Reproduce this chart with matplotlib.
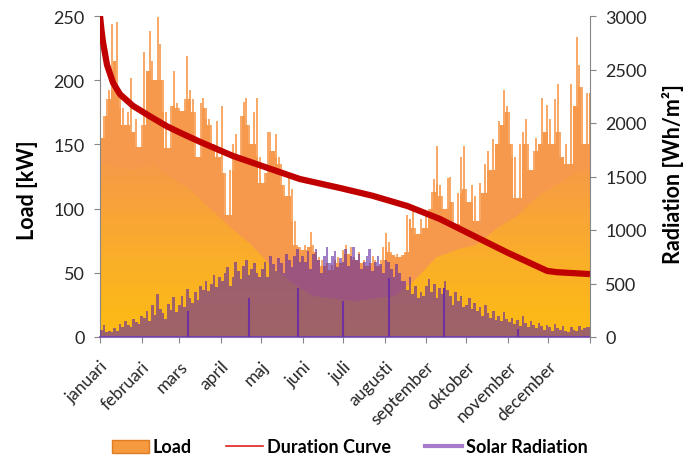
import numpy as np
import matplotlib
matplotlib.use('Agg')
import matplotlib.pyplot as plt
from matplotlib.colors import LinearSegmentedColormap
from matplotlib.patches import Patch
from matplotlib.lines import Line2D

plt.rcParams['font.family'] = ['Lato', 'DejaVu Sans']

months = ['januari', 'februari', 'mars', 'april', 'maj', 'juni', 'juli',
          'augusti', 'september', 'oktober', 'november', 'december']
month_starts = [0, 31, 59, 90, 120, 151, 181, 212, 243, 273, 304, 334, 365]

# load peaks, one value per 2 days [kW]
load_peak = [
    155, 172, 185, 192, 244, 215, 245, 188, 178, 165, 175, 202, 160, 170, 148, 165,
    222, 207, 238, 215, 200, 249, 228, 200, 175, 147, 180, 207, 182, 178,
    176, 185, 219, 192, 185, 175, 140, 182, 186, 178, 170, 165, 150, 168, 140,
    180, 128, 95, 130, 150, 158, 140, 172, 183, 186, 165, 150, 175, 186, 140,
    120, 128, 160, 160, 145, 158, 140, 135, 118, 110, 125, 115, 90, 72, 70,
    68, 72, 70, 82, 72, 66, 62, 60, 55, 58, 52, 56, 60, 62, 58,
    68, 72, 65, 70, 62, 60, 66, 58, 60, 55, 58, 63, 60, 55, 60,
    70, 81, 74, 66, 64, 65, 62, 64, 66, 95, 92, 102, 85, 80, 92, 85,
    95, 100, 113, 123, 149, 118, 110, 100, 124, 125, 105, 88, 112, 140, 149,
    115, 105, 118, 110, 90, 120, 112, 135, 145, 130, 154, 150, 168, 165, 192, 180,
    175, 150, 140, 108, 150, 160, 170, 150, 130, 145, 155, 150, 186, 160, 181,
    170, 150, 185, 197, 160, 140, 150, 135, 197, 180, 234, 212, 195, 150, 190, 190,
]

# base load (daily minimum), one value per half month [kW]
load_base = [135, 130, 135, 125, 115, 100, 85, 72, 55, 42, 32, 30,
             28, 30, 32, 45, 62, 68, 72, 85, 95, 110, 120, 130]

# solar radiation, one value per 2 days [Wh/m2]
radiation = [
    70, 115, 50, 60, 45, 80, 60, 120, 95, 150, 110, 90, 170, 140, 120, 200,
    180, 240, 150, 300, 210, 400, 260, 220, 170, 310, 250, 370, 230, 300,
    380, 280, 450, 360, 320, 420, 350, 480, 440, 520, 430, 500, 580, 470, 560,
    520, 600, 650, 480, 560, 700, 620, 540, 660, 720, 580, 640, 690, 600, 560,
    640, 700, 560, 760, 680, 620, 740, 690, 600, 780, 720, 650, 760, 820, 700,
    760, 700, 800, 640, 780, 820, 720, 600, 760, 840, 690, 760, 800, 650, 740,
    700, 820, 660, 760, 840, 720, 780, 640, 700, 760, 820, 620, 700, 760, 680,
    600, 720, 700, 640, 560, 680, 600, 520, 520, 440, 560, 400, 480, 360, 420, 380,
    480, 540, 420, 500, 360, 460, 400, 520, 440, 380, 300, 420, 340, 380, 280,
    300, 360, 260, 320, 240, 280, 200, 300, 220, 180, 240, 160, 200, 150, 230, 170,
    140, 180, 120, 160, 100, 200, 130, 90, 150, 110, 80, 130, 100, 70, 110,
    90, 60, 120, 80, 70, 100, 60, 50, 90, 70, 60, 100, 70, 80, 90, 90,
]

# dark purple streaks in the radiation series
streak_days = [65.5, 111, 147.5, 181, 215.5, 256, 311.5]
streak_vals = [240, 365, 455, 335, 550, 460, 75]

# duration curve (sorted load)
dur_days = [0, 1, 2.2, 5.2, 9.7, 14.9, 24.6, 37, 50, 62, 74.5, 99, 124, 149,
            179, 203, 229, 253, 278, 303, 333, 340, 365]
dur_kw = [250, 240, 230, 212, 198, 189, 180, 172, 164, 158, 152, 141, 132, 123,
          116, 110, 102, 92, 79, 66, 51.5, 50.5, 49]

fig = plt.figure(figsize=(6.92, 4.56), dpi=100)
ax = fig.add_axes([100 / 692, 1 - 338 / 456, 490 / 692, 321 / 456])

# load: solid body up to the lower of neighbouring peaks, thin spikes on top
peak = np.array(load_peak)
body = np.minimum(peak, np.minimum(np.r_[peak[0], peak[:-1]], np.r_[peak[1:], peak[-1]]))
xe = np.arange(len(peak) + 1) * 2
ax.fill_between(xe, 0, np.r_[body, body[-1]], step='post', color='#F6994C', lw=0, zorder=1)
ax.vlines(xe[:-1] + 1, 0, peak, color='#F6994C', lw=1.2, zorder=1)

half_mid = []
for a, b in zip(month_starts[:-1], month_starts[1:]):
    half_mid += [a + (b - a) / 4, a + 3 * (b - a) / 4]
xb = [0] + half_mid + [365]
yb = [load_base[0]] + load_base + [load_base[-1]]
base = ax.fill_between(xb, 0, yb, facecolor='none', lw=0)
cmap = LinearSegmentedColormap.from_list(
    'load', [(0, '#FDBC12'), (0.25, '#FAAE2A'), (0.45, '#F7A03E'), (0.56, '#F69A4A'), (1, '#F5964C')])
grad = np.linspace(0, 1, 256).reshape(-1, 1)
img = ax.imshow(grad, extent=[0, 365, 0, 250], origin='lower', aspect='auto', cmap=cmap, zorder=2)
img.set_clip_path(base.get_paths()[0], transform=ax.transData)

ax.plot(dur_days, dur_kw, color='#C00000', lw=4.5, zorder=5, solid_capstyle='butt')

ax.set_xlim(0, 365)
ax.set_ylim(0, 250)
ax.set_yticks(range(0, 251, 50))
ax.set_xticks(month_starts)
ax.set_xticklabels(months + [''], fontsize=12.5)
for lbl in ax.get_xticklabels():
    lbl.set_rotation(45)
    lbl.set_ha('right')
    lbl.set_va('top')
    lbl.set_rotation_mode('anchor')
ax.tick_params(axis='x', length=4, color='#868686', pad=11, labelcolor='#262626')
ax.tick_params(axis='y', length=4, color='#868686', labelsize=13, pad=7, labelcolor='#262626')
ax.spines['top'].set_visible(False)
ax.spines['right'].set_visible(False)
ax.spines['left'].set_color('#868686')
ax.spines['bottom'].set_color('#8E68B8')
ax.spines['bottom'].set_linewidth(1.5)

# radiation on right axis
ax2 = ax.twinx()
xr = np.arange(len(radiation) + 1) * 2
yr = radiation + [radiation[-1]]
ax2.fill_between(xr, 0, yr, step='post', color='#6028A0', alpha=0.6, lw=0)
ax2.vlines(streak_days, 0, streak_vals, color='#7030A0', lw=1.5)
ax2.set_ylim(0, 3000)
ax2.set_xlim(0, 365)
ax2.set_yticks(range(0, 3001, 500))
ax2.tick_params(axis='y', length=4, color='#868686', labelsize=13, pad=7, labelcolor='#262626')
ax2.spines['top'].set_visible(False)
ax2.spines['left'].set_visible(False)
ax2.spines['bottom'].set_visible(False)
ax2.spines['right'].set_color('#868686')

fig.text(28 / 692, 1 - 190 / 456, 'Load [kW]', rotation=90, ha='center', va='center',
         fontsize=15.5, fontweight='bold')
fig.text(673 / 692, 1 - 174 / 456, 'Radiation [Wh/m²]', rotation=90, ha='center', va='center',
         fontsize=15.5, fontweight='bold')

handles = [Patch(facecolor='#F59A3E', edgecolor='#E07B28', lw=1),
           Line2D([], [], color='#E02020', lw=1.2),
           Line2D([], [], color='#A67BCB', lw=3)]
fig.legend(handles, ['Load', 'Duration Curve', 'Solar Radiation'], loc='center',
           bbox_to_anchor=(350 / 692, 1 - 448 / 456), ncol=3, frameon=False,
           prop={'weight': 'bold', 'size': 13}, handlelength=2.05, handleheight=0.75,
           handletextpad=0.2, columnspacing=1.9)

fig.savefig('out.png', dpi=100)
